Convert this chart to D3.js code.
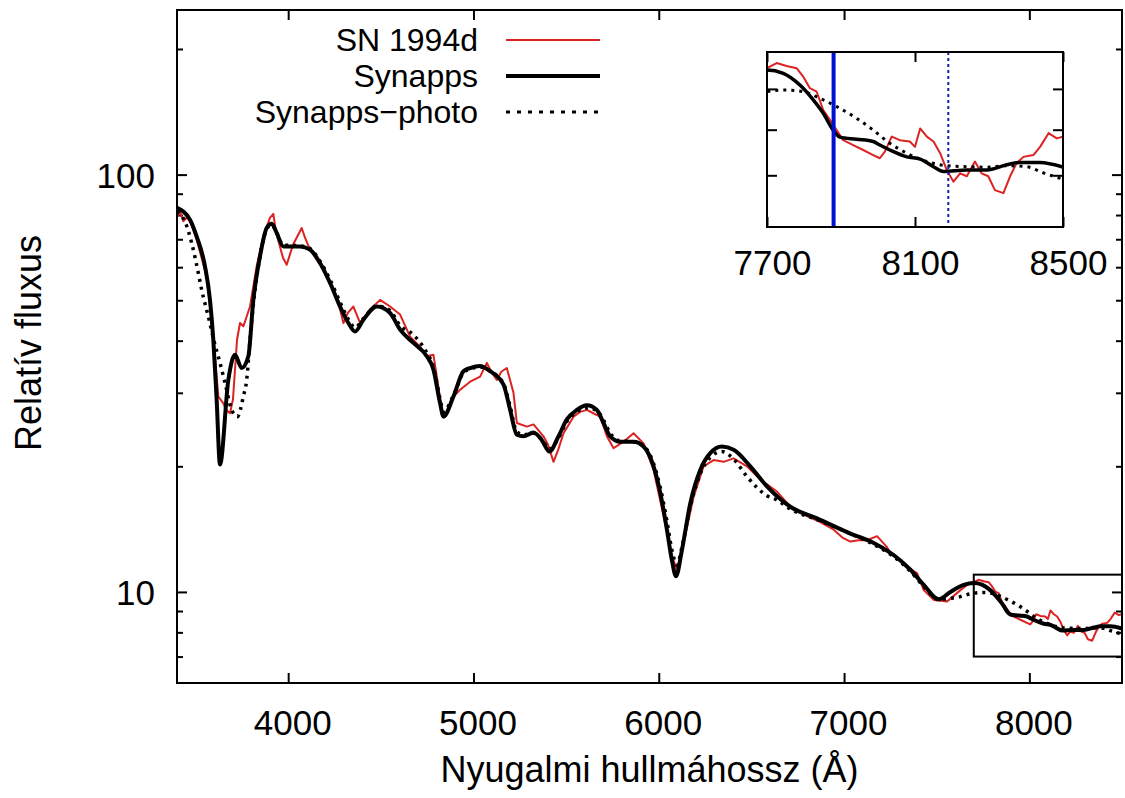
<!DOCTYPE html>
<html>
<head>
<meta charset="utf-8">
<script src="https://cdn.jsdelivr.net/npm/d3@7"></script>
<style>
  body { margin: 0; background: #fff; }
  text { font-family: "Liberation Sans", Arial, Helvetica, sans-serif; fill: #000; }
</style>
</head>
<body>
<div id="chart"></div>
<script>
// SN 1994d observed spectrum (wavelength in Å, relative flux)
const obsWave = [3400, 3416, 3434, 3454, 3470, 3506, 3560, 3596, 3623, 3650, 3665, 3686, 3702, 3724, 3740, 3758,
  3776, 3794, 3830, 3866, 3902, 3920, 3932, 3945, 3972, 3992, 4026, 4073, 4091, 4118, 4150, 4190, 4242, 4280,
  4298, 4323, 4352, 4388, 4442, 4496, 4550, 4604, 4658, 4712, 4748, 4784, 4809, 4829, 4847, 4885, 4928, 4982,
  5036, 5072, 5096, 5126, 5150, 5180, 5216, 5234, 5288, 5324, 5378, 5403, 5432, 5457, 5486, 5540, 5576, 5612,
  5646, 5684, 5720, 5756, 5810, 5864, 5918, 5972, 6026, 6071, 6098, 6134, 6188, 6242, 6296, 6350, 6404, 6476,
  6548, 6638, 6710, 6800, 6872, 6944, 6991, 7034, 7077, 7124, 7178, 7232, 7250, 7304, 7322, 7394, 7430, 7484,
  7556, 7628, 7671, 7700, 7726, 7753, 7780, 7798, 7816, 7834, 7852, 7870, 7888, 7906, 7933, 7960, 7987, 8005,
  8019, 8037, 8059, 8086, 8100, 8114, 8132, 8150, 8168, 8186, 8204, 8222, 8240, 8262, 8280, 8298, 8316, 8339,
  8357, 8375, 8393, 8420, 8438, 8461, 8483, 8500];
const obsFlux = [79.4, 81.5, 77.3, 79.0, 77.3, 69.9, 57.0, 40.9, 29.4, 28.3, 27.3, 26.8, 28.9, 40.2, 44.1, 43.3,
  45.7, 48.3, 60.3, 71.1, 78.9, 80.5, 74.0, 69.9, 63.2, 60.8, 67.9, 74.5, 70.6, 66.1, 63.0, 59.2, 53.0, 47.5,
  44.1, 46.7, 48.3, 44.1, 47.5, 50.1, 48.3, 46.2, 40.9, 38.7, 36.7, 37.0, 31.4, 27.3, 26.3, 29.2, 30.5, 31.9,
  32.8, 35.4, 33.7, 32.2, 33.7, 34.4, 30.0, 25.4, 24.9, 25.2, 23.6, 22.5, 20.5, 21.9, 24.0, 26.3, 27.0, 27.3,
  26.8, 26.3, 23.6, 22.1, 22.9, 24.0, 22.7, 19.6, 15.2, 12.2, 11.3, 13.1, 16.9, 20.0, 20.7, 20.5, 20.9, 20.0,
  18.6, 17.4, 16.0, 15.2, 14.7, 14.1, 13.5, 13.2, 13.3, 13.3, 13.6, 12.8, 12.4, 11.9, 11.6, 11.1, 10.1, 9.57,
  9.48, 10.1, 10.45, 10.55, 10.69, 10.61, 10.55, 10.32, 10.02, 9.93, 9.47, 9.23, 8.99, 8.76, 8.65, 8.54, 8.43, 8.36,
  8.51, 8.84, 8.76, 8.73, 8.61, 9.03, 8.84, 8.73, 8.47, 8.11, 7.87, 8.04, 7.98, 8.29, 8.04, 7.98, 7.70, 7.64,
  7.98, 8.26, 8.39, 8.43, 8.61, 8.92, 8.80, 8.84];

// Synapps fit
const synWave = [3400, 3470, 3506, 3551, 3578, 3596, 3614, 3632, 3677, 3713, 3749, 3785, 3812, 3848, 3884, 3911,
  3938, 3974, 4020, 4064, 4118, 4172, 4226, 4280, 4325, 4361, 4406, 4478, 4550, 4604, 4676, 4748, 4784, 4820,
  4838, 4892, 4946, 4982, 5036, 5090, 5162, 5198, 5234, 5270, 5324, 5369, 5410, 5459, 5504, 5558, 5612, 5666,
  5702, 5738, 5792, 5864, 5918, 5972, 6008, 6044, 6071, 6093, 6125, 6170, 6224, 6278, 6341, 6404, 6494, 6584,
  6710, 6854, 7034, 7160, 7304, 7358, 7430, 7511, 7574, 7646, 7700, 7744, 7789, 7825, 7852, 7879, 7897, 7942,
  7987, 8005, 8032, 8078, 8114, 8150, 8177, 8240, 8294, 8348, 8384, 8438, 8500];
const synFlux = [83.2, 78.0, 71.1, 60.3, 50.1, 40.2, 28.9, 20.2, 32.2, 37.0, 34.4, 36.7, 50.1, 63.7, 74.5, 76.3,
  72.5, 67.3, 67.3, 67.3, 66.1, 61.4, 55.0, 48.3, 44.1, 42.1, 44.9, 48.3, 46.6, 42.5, 39.5, 36.7, 34.1, 28.3,
  26.3, 29.4, 33.8, 34.4, 34.8, 33.8, 31.4, 27.3, 23.8, 23.6, 24.1, 23.1, 21.7, 23.6, 25.9, 27.3, 28.0, 27.3,
  25.4, 23.6, 22.9, 22.9, 22.3, 20.0, 17.3, 14.1, 11.9, 10.9, 12.6, 16.3, 19.6, 21.5, 22.3, 21.9, 20.0, 17.9,
  16.0, 15.0, 13.8, 13.1, 11.9, 11.3, 10.4, 9.6, 10.0, 10.4, 10.5, 10.41, 10.1, 9.72, 9.39, 8.99, 8.83, 8.78,
  8.73, 8.65, 8.54, 8.39, 8.34, 8.18, 8.08, 8.11, 8.11, 8.22, 8.27, 8.27, 8.17];

// Synapps-photo fit
const photoWave = [3400, 3443, 3479, 3515, 3533, 3569, 3605, 3632, 3659, 3695, 3726, 3758, 3776, 3794, 3812, 3848,
  3884, 3911, 3938, 3974, 4064, 4118, 4172, 4226, 4280, 4325, 4361, 4406, 4478, 4550, 4604, 4676, 4739, 4784,
  4820, 4838, 4892, 4946, 4982, 5036, 5090, 5162, 5198, 5234, 5270, 5324, 5369, 5410, 5459, 5504, 5558, 5612,
  5666, 5702, 5738, 5792, 5864, 5918, 5972, 6008, 6044, 6071, 6098, 6125, 6170, 6224, 6278, 6341, 6404, 6476,
  6584, 6638, 6710, 6854, 7034, 7160, 7304, 7358, 7430, 7500, 7540, 7574, 7610, 7646, 7700, 7753, 7798, 7843,
  7897, 7942, 7987, 8032, 8078, 8132, 8186, 8240, 8294, 8348, 8402, 8447, 8500];
const photoFlux = [81.5, 77.2, 68.6, 58.1, 53.0, 45.7, 39.1, 35.4, 31.7, 27.3, 26.3, 29.4, 32.2, 40.2, 48.8, 63.7,
  74.0, 76.0, 72.5, 67.8, 67.5, 66.5, 62.0, 56.0, 49.5, 45.0, 43.0, 45.2, 48.5, 47.2, 43.5, 41.3, 38.0, 34.5,
  29.0, 27.0, 29.6, 33.5, 34.2, 34.6, 33.8, 31.6, 27.8, 24.2, 23.8, 24.0, 23.2, 22.0, 23.4, 25.6, 27.0, 27.6,
  27.2, 25.8, 24.0, 23.0, 22.9, 22.4, 20.3, 17.8, 14.8, 12.6, 11.6, 12.8, 16.0, 19.2, 21.0, 21.7, 20.8, 18.9,
  17.0, 16.6, 15.8, 14.9, 13.8, 13.0, 11.8, 11.2, 10.3, 9.65, 9.6, 9.65, 9.7, 9.8, 9.93, 9.97, 9.93, 9.76,
  9.51, 9.27, 8.99, 8.69, 8.47, 8.29, 8.2, 8.18, 8.17, 8.2, 8.18, 8.05, 7.92];

const seriesNames = ["SN 1994d", "Synapps", "Synapps\u2212photo"];
const xTicks = [4000, 5000, 6000, 7000, 8000];
const yMajorTicks = [10, 100];
const yMinorTicks = [7, 8, 9, 20, 30, 40, 50, 60, 70, 80, 90, 200];
const insetXTicks = [7700, 8100, 8500];
const insetYTicks = [8, 9, 10];
const markerSolid = 7880;
const markerDotted = 8190;
const xLabel = "Nyugalmi hullmáhossz (Å)";
const yLabel = "Relatív fluxus";

const W = 1125, H = 798;
const plot = {left: 177, right: 1122, top: 10, bottom: 683};
const inset = {left: 767, right: 1063, top: 52, bottom: 227};
const fontSize = 35;

const zip = (w, f) => w.map((d, i) => ({w: d, f: f[i]}));
const obsData = zip(obsWave, obsFlux);
const synData = zip(synWave, synFlux);
const photoData = zip(photoWave, photoFlux);

const svg = d3.select("#chart").append("svg")
    .attr("width", W)
    .attr("height", H)
    .style("font-size", fontSize + "px");

svg.append("rect").attr("width", W).attr("height", H).attr("fill", "#fff");

const x = d3.scaleLinear().domain([3400, 8500]).range([plot.left, plot.right]);
const y = d3.scaleLog().domain([6.05, 248]).range([plot.bottom, plot.top]);

const defs = svg.append("defs");
defs.append("clipPath").attr("id", "clip-main")
    .append("rect")
    .attr("x", plot.left).attr("y", plot.top)
    .attr("width", plot.right - plot.left).attr("height", plot.bottom - plot.top);
defs.append("clipPath").attr("id", "clip-inset")
    .append("rect")
    .attr("x", inset.left).attr("y", inset.top)
    .attr("width", inset.right - inset.left).attr("height", inset.bottom - inset.top);

function styleAxis(g, labels) {
    g.select(".domain").remove();
    g.selectAll(".tick line").attr("stroke", "#000").attr("stroke-width", 2);
    g.selectAll(".tick text").style("font-size", fontSize + "px")
        .style("font-family", "'Liberation Sans', Arial, sans-serif");
    if (!labels) g.selectAll(".tick text").remove();
}

// main axes
svg.append("g")
    .attr("transform", "translate(0," + plot.bottom + ")")
    .call(d3.axisBottom(x).tickValues(xTicks).tickSize(-10).tickPadding(27).tickFormat(d3.format("d")))
    .call(g => styleAxis(g, true))
    .call(g => g.selectAll(".tick text").attr("dx", 4));
svg.append("g")
    .attr("transform", "translate(0," + plot.top + ")")
    .call(d3.axisTop(x).tickValues(xTicks).tickSize(-10))
    .call(g => styleAxis(g, false));
svg.append("g")
    .attr("transform", "translate(" + plot.left + ",0)")
    .call(d3.axisLeft(y).tickValues(yMajorTicks).tickSize(-10).tickPadding(22).tickFormat(d3.format("d")))
    .call(g => styleAxis(g, true))
    .call(g => g.selectAll(".tick text").attr("dy", "0.36em"));
svg.append("g")
    .attr("transform", "translate(" + plot.left + ",0)")
    .call(d3.axisLeft(y).tickValues(yMinorTicks).tickSize(-6))
    .call(g => styleAxis(g, false));
svg.append("g")
    .attr("transform", "translate(" + plot.right + ",0)")
    .call(d3.axisRight(y).tickValues(yMajorTicks).tickSize(-10))
    .call(g => styleAxis(g, false));
svg.append("g")
    .attr("transform", "translate(" + plot.right + ",0)")
    .call(d3.axisRight(y).tickValues(yMinorTicks).tickSize(-6))
    .call(g => styleAxis(g, false));

const line = d3.line().x(d => x(d.w)).y(d => y(d.f));
const smooth = d3.line().x(d => x(d.w)).y(d => y(d.f)).curve(d3.curveMonotoneX);

const main = svg.append("g").attr("clip-path", "url(#clip-main)");
main.append("path").datum(obsData)
    .attr("fill", "none").attr("stroke", "#dd2222").attr("stroke-width", 2)
    .attr("stroke-linejoin", "round").attr("d", line);
main.append("path").datum(synData)
    .attr("fill", "none").attr("stroke", "#000").attr("stroke-width", 4)
    .attr("stroke-linejoin", "round").attr("d", smooth);
main.append("path").datum(photoData)
    .attr("fill", "none").attr("stroke", "#000").attr("stroke-width", 3.5)
    .attr("stroke-dasharray", "3,5").attr("d", smooth);

// zoom box on main plot
svg.append("rect")
    .attr("x", x(7700)).attr("y", y(11))
    .attr("width", x(8500) - x(7700)).attr("height", y(7) - y(11))
    .attr("fill", "none").attr("stroke", "#000").attr("stroke-width", 2);

// main frame
svg.append("rect")
    .attr("x", plot.left).attr("y", plot.top)
    .attr("width", plot.right - plot.left).attr("height", plot.bottom - plot.top)
    .attr("fill", "none").attr("stroke", "#000").attr("stroke-width", 2);

// inset
const xi = d3.scaleLinear().domain([7700, 8500]).range([inset.left, inset.right]);
const yi = d3.scaleLog().domain([7, 11]).range([inset.bottom, inset.top]);

svg.append("rect")
    .attr("x", inset.left).attr("y", inset.top)
    .attr("width", inset.right - inset.left).attr("height", inset.bottom - inset.top)
    .attr("fill", "#fff");

const lineI = d3.line().x(d => xi(d.w)).y(d => yi(d.f));
const smoothI = d3.line().x(d => xi(d.w)).y(d => yi(d.f)).curve(d3.curveMonotoneX);
const ins = svg.append("g").attr("clip-path", "url(#clip-inset)");
ins.append("path").datum(obsData)
    .attr("fill", "none").attr("stroke", "#dd2222").attr("stroke-width", 2)
    .attr("stroke-linejoin", "round").attr("d", lineI);
ins.append("path").datum(synData)
    .attr("fill", "none").attr("stroke", "#000").attr("stroke-width", 3.5)
    .attr("d", smoothI);
ins.append("path").datum(photoData)
    .attr("fill", "none").attr("stroke", "#000").attr("stroke-width", 3)
    .attr("stroke-dasharray", "3,5").attr("d", smoothI);

ins.append("line")
    .attr("x1", xi(markerSolid)).attr("x2", xi(markerSolid))
    .attr("y1", inset.top).attr("y2", inset.bottom)
    .attr("stroke", "#0010d0").attr("stroke-width", 4);
ins.append("line")
    .attr("x1", xi(markerDotted)).attr("x2", xi(markerDotted))
    .attr("y1", inset.top).attr("y2", inset.bottom)
    .attr("stroke", "#1020b0").attr("stroke-width", 2)
    .attr("stroke-dasharray", "3,3");

svg.append("g")
    .attr("transform", "translate(0," + inset.bottom + ")")
    .call(d3.axisBottom(xi).tickValues(insetXTicks).tickSize(-10).tickPadding(23).tickFormat(d3.format("d")))
    .call(g => styleAxis(g, true))
    .call(g => g.selectAll(".tick text").attr("dx", 5));
svg.append("g")
    .attr("transform", "translate(0," + inset.top + ")")
    .call(d3.axisTop(xi).tickValues(insetXTicks).tickSize(-10))
    .call(g => styleAxis(g, false));
svg.append("g")
    .attr("transform", "translate(" + inset.left + ",0)")
    .call(d3.axisLeft(yi).tickValues(insetYTicks).tickSize(-10))
    .call(g => styleAxis(g, false));
svg.append("g")
    .attr("transform", "translate(" + inset.right + ",0)")
    .call(d3.axisRight(yi).tickValues(insetYTicks).tickSize(-10))
    .call(g => styleAxis(g, false));

svg.append("rect")
    .attr("x", inset.left).attr("y", inset.top)
    .attr("width", inset.right - inset.left).attr("height", inset.bottom - inset.top)
    .attr("fill", "none").attr("stroke", "#000").attr("stroke-width", 2);

// legend
const legendStyles = [
    {stroke: "#dd2222", width: 2, dash: null},
    {stroke: "#000", width: 4, dash: null},
    {stroke: "#000", width: 3, dash: "4,7"}
];
const legend = svg.append("g");
seriesNames.forEach((name, i) => {
    const base = 51 + i * 36;
    legend.append("text")
        .attr("x", 478).attr("y", base)
        .attr("text-anchor", "end")
        .style("font-size", "32px")
        .text(name);
    legend.append("line")
        .attr("x1", 506).attr("x2", 600)
        .attr("y1", base - 11).attr("y2", base - 11)
        .attr("stroke", legendStyles[i].stroke)
        .attr("stroke-width", legendStyles[i].width)
        .attr("stroke-dasharray", legendStyles[i].dash);
});

// axis titles
svg.append("text")
    .attr("x", (plot.left + plot.right) / 2).attr("y", 782)
    .attr("text-anchor", "middle")
    .style("font-size", "36px")
    .text(xLabel);
svg.append("text")
    .attr("transform", "translate(41," + 343 + ") rotate(-90)")
    .attr("text-anchor", "middle")
    .style("font-size", "36px")
    .text(yLabel);
</script>
</body>
</html>
